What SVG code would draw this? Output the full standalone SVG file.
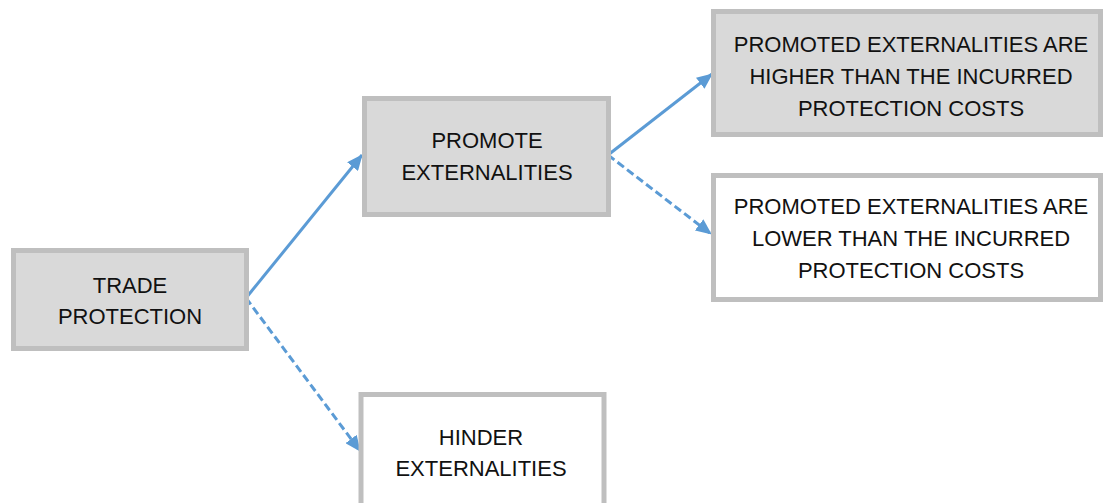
<svg xmlns="http://www.w3.org/2000/svg" width="1104" height="503" viewBox="0 0 1104 503">
<style>
.box{stroke:#bfbfbf;stroke-width:5}
.grey{fill:#d9d9d9}
.white{fill:#ffffff}
text{font-family:"Liberation Sans",Arial,sans-serif;font-size:22px;fill:#111;text-anchor:middle}
.c{fill:none;stroke:#5b9bd5;stroke-width:3}
.d{stroke-dasharray:8 4}
</style>
<defs>
<marker id="ah" markerUnits="userSpaceOnUse" markerWidth="16" markerHeight="14" viewBox="0 0 16 14" refX="15" refY="7" orient="auto">
<path d="M0,0 L16,7 L0,14 Z" fill="#5b9bd5"/>
</marker>
</defs>
<g id="connectors">
<line class="c" x1="246" y1="298" x2="362" y2="155" marker-end="url(#ah)"/>
<line class="c d" x1="246" y1="298" x2="360" y2="451" marker-end="url(#ah)"/>
<line class="c" x1="608" y1="155" x2="712" y2="74" marker-end="url(#ah)"/>
<line class="c d" x1="608" y1="155" x2="711" y2="234" marker-end="url(#ah)"/>
</g>
<g id="trade">
<rect class="box grey" x="13.5" y="250.5" width="233" height="98"/>
<text x="130" y="293">TRADE</text>
<text x="130" y="324">PROTECTION</text>
</g>
<g id="promote">
<rect class="box grey" x="364.5" y="98.5" width="244" height="116"/>
<text x="487" y="148">PROMOTE</text>
<text x="487" y="180">EXTERNALITIES</text>
</g>
<g id="hinder">
<rect class="box white" x="361" y="394.5" width="243" height="130"/>
<text x="481" y="445">HINDER</text>
<text x="481" y="476">EXTERNALITIES</text>
</g>
<g id="higher">
<rect class="box grey" x="713.5" y="11.5" width="387" height="123"/>
<text x="911" y="52">PROMOTED EXTERNALITIES ARE</text>
<text x="911" y="84">HIGHER THAN THE INCURRED</text>
<text x="911" y="116">PROTECTION COSTS</text>
</g>
<g id="lower">
<rect class="box white" x="713.5" y="175.5" width="387" height="124"/>
<text x="911" y="214">PROMOTED EXTERNALITIES ARE</text>
<text x="911" y="246">LOWER THAN THE INCURRED</text>
<text x="911" y="278">PROTECTION COSTS</text>
</g>
</svg>
